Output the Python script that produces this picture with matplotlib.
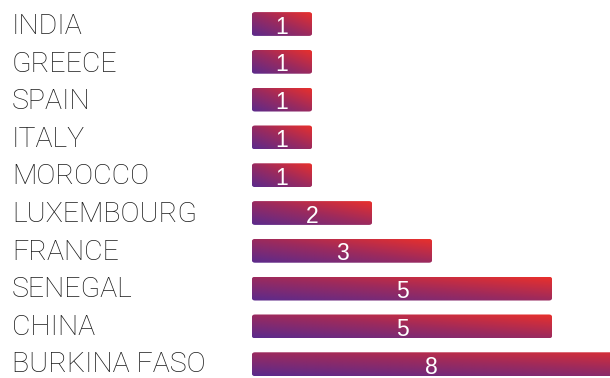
import numpy as np
import matplotlib
matplotlib.use("Agg")
import matplotlib.pyplot as plt
from matplotlib.patches import FancyBboxPatch
from matplotlib.colors import LinearSegmentedColormap

countries = ["INDIA", "GREECE", "SPAIN", "ITALY", "MOROCCO",
             "LUXEMBOURG", "FRANCE", "SENEGAL", "CHINA", "BURKINA FASO"]
values = [1, 1, 1, 1, 1, 2, 3, 5, 5, 8]

cmap = LinearSegmentedColormap.from_list("grad", ["#5b2a8c", "#9b2a5e", "#e8302c"])

fig = plt.figure(figsize=(6.10, 3.78), dpi=100)
ax = fig.add_axes([252 / 610, 0, 1 - 252 / 610, 1])
ax.set_xlim(0, 358 / 60)
ax.set_ylim(9.365, -0.635)
ax.axis("off")

# diagonal gradient image, reused for every bar
u, v = np.meshgrid(np.linspace(0, 1, 200), np.linspace(0, 1, 40))
grad = 0.5 * u + 0.5 * v

bar_h = 0.63
xmax = ax.get_xlim()[1]
for i, (name, val) in enumerate(zip(countries, values)):
    y0 = i - bar_h / 2
    patch = FancyBboxPatch((0, y0), val, bar_h,
                           boxstyle="round,pad=0,rounding_size=0.05",
                           mutation_aspect=1 / 0.9,
                           linewidth=0, facecolor="none")
    ax.add_patch(patch)
    im = ax.imshow(grad, cmap=cmap, extent=(0, val, i + bar_h / 2, y0),
                   origin="lower", aspect="auto", interpolation="bilinear")
    im.set_clip_path(patch)
    xc = min(val, xmax) / 2
    ax.text(xc, i + 0.08, str(val), color="white", fontsize=16.5,
            family="Liberation Sans", ha="center", va="center")
    fig.text(12 / 610, 1 - (26.5 + i * 37.6) / 378, name, fontsize=20.5,
             family="Roboto", fontweight="light", color="#1a1a1a",
             ha="left", va="center")

ax.set_ylim(9.365, -0.635)
ax.set_xlim(0, xmax)
fig.savefig("out.png", dpi=100)
